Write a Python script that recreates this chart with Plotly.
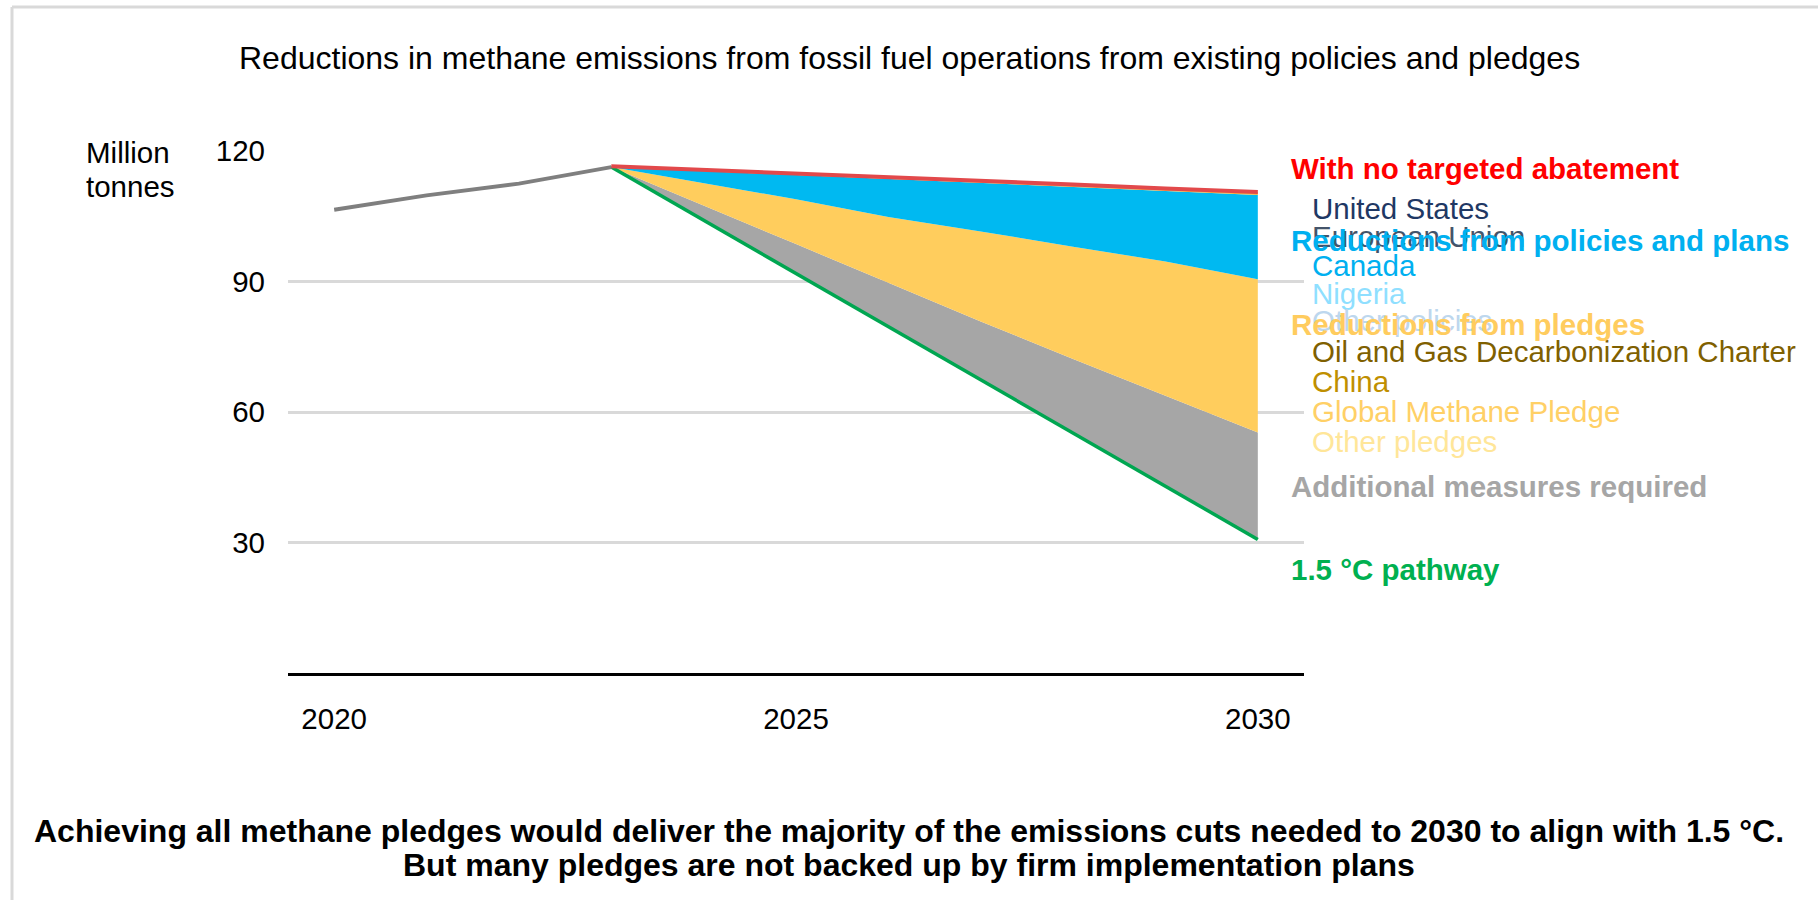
import plotly.graph_objects as go

# ---------------- data (million tonnes) ----------------
years_hist = [2020, 2021, 2022, 2023]
hist = [106.5, 109.8, 112.5, 116.3]

years_proj = [2023, 2024, 2025, 2026, 2027, 2028, 2029, 2030]
no_abatement = [116.5, 115.7, 114.8, 114.0, 113.1, 112.3, 111.4, 110.6]
after_charter = [116.3, 115.4, 114.5, 113.6, 112.7, 111.8, 110.8, 109.9]
after_policies = [116.3, 112.6, 108.9, 104.8, 101.5, 98.0, 94.6, 90.5]
after_pledges = [116.3, 107.5, 98.6, 89.7, 80.8, 72.2, 63.7, 55.3]
pathway_15 = [116.3, 104.1, 91.8, 79.6, 67.4, 55.2, 42.9, 30.7]

x_ticks = [2020, 2025, 2030]
x_ticktext = ["2020", "2025", "2030"]
y_ticks = [30, 60, 90, 120]
y_ticktext = ["30", "60", "90", "120"]

title = "Reductions in methane emissions from fossil fuel operations from existing policies and pledges"
footer1 = "Achieving all methane pledges would deliver the majority of the emissions cuts needed to 2030 to align with 1.5 °C."
footer2 = "But many pledges are not backed up by firm implementation plans"

series_labels = ["With no targeted abatement", "Reductions from policies and plans",
                 "Reductions from pledges", "Additional measures required", "1.5 °C pathway"]
policy_labels = ["United States", "European Union", "Canada", "Nigeria", "Other policies"]
pledge_labels = ["Oil and Gas Decarbonization Charter", "China", "Global Methane Pledge", "Other pledges"]

# ---------------- layout geometry ----------------
W_FIG, H_FIG = 1818, 900
L, R, T, B = 288, 514, 151, 227
PW = W_FIG - L - R
PH = H_FIG - T - B


def px(x):
    return (x - L) / PW


def py(y):
    return (H_FIG - B - y) / PH


FONT = "Liberation Sans, Arial, sans-serif"
FS = 29.5
RED, BLUE, YEL, GREY, GREEN = "#E2494B", "#00B9F1", "#FFCD5D", "#A6A6A6", "#00A651"

fig = go.Figure()

# stacked filled bands
fig.add_trace(go.Scatter(x=years_proj, y=pathway_15, mode="lines", line=dict(width=0, color=GREEN),
                         showlegend=False, hoverinfo="skip"))
fig.add_trace(go.Scatter(x=years_proj, y=after_pledges, mode="lines", line=dict(width=0),
                         fill="tonexty", fillcolor=GREY, showlegend=False, hoverinfo="skip"))
fig.add_trace(go.Scatter(x=years_proj, y=after_policies, mode="lines", line=dict(width=0),
                         fill="tonexty", fillcolor=YEL, showlegend=False, hoverinfo="skip"))
fig.add_trace(go.Scatter(x=years_proj, y=after_charter, mode="lines", line=dict(width=0),
                         fill="tonexty", fillcolor=BLUE, showlegend=False, hoverinfo="skip"))
fig.add_trace(go.Scatter(x=years_proj, y=no_abatement, mode="lines", line=dict(width=0),
                         fill="tonexty", fillcolor="#F5B041", showlegend=False, hoverinfo="skip"))

# lines
fig.add_trace(go.Scatter(x=years_proj, y=pathway_15, mode="lines", line=dict(width=3.5, color=GREEN),
                         showlegend=False))
fig.add_trace(go.Scatter(x=years_proj, y=no_abatement, mode="lines", line=dict(width=4, color=RED),
                         showlegend=False))
fig.add_trace(go.Scatter(x=years_hist, y=hist, mode="lines", line=dict(width=4, color="#7F7F7F"),
                         showlegend=False))

ann = []
# title
ann.append(dict(x=px(909), y=py(58), xref="paper", yref="paper", text=title, showarrow=False,
                xanchor="center", yanchor="middle", font=dict(size=32, color="#000000", family=FONT)))
# axis unit
ann.append(dict(x=px(84), y=py(152), xref="paper", yref="paper", text="Million", showarrow=False,
                xanchor="left", yanchor="middle", font=dict(size=FS, color="#000000", family=FONT)))
ann.append(dict(x=px(84), y=py(186), xref="paper", yref="paper", text="tonnes", showarrow=False,
                xanchor="left", yanchor="middle", font=dict(size=FS, color="#000000", family=FONT)))

# regular sub-labels (drawn first so bold labels overlay them)
policy_cols = ["#1F3864", "#44546A", "#00B0F0", "#8FDFFF", "#BDD7EE"]
policy_y = [208, 237, 265, 293, 320]
for t, c, yy in zip(policy_labels, policy_cols, policy_y):
    ann.append(dict(x=px(1310), y=py(yy), xref="paper", yref="paper", text=t, showarrow=False,
                    xanchor="left", yanchor="middle", font=dict(size=FS, color=c, family=FONT)))
pledge_cols = ["#7F6000", "#BF8F00", "#FFD066", "#FFE699"]
pledge_y = [351, 381, 411, 441]
for t, c, yy in zip(pledge_labels, pledge_cols, pledge_y):
    ann.append(dict(x=px(1310), y=py(yy), xref="paper", yref="paper", text=t, showarrow=False,
                    xanchor="left", yanchor="middle", font=dict(size=FS, color=c, family=FONT)))

# bold series labels
series_cols = ["#FF0000", "#00B0F0", "#FFCC5E", "#A6A6A6", "#00B050"]
series_y = [168, 240, 324, 486, 569]
for t, c, yy in zip(series_labels, series_cols, series_y):
    ann.append(dict(x=px(1289), y=py(yy), xref="paper", yref="paper", text="<b>" + t + "</b>",
                    showarrow=False, xanchor="left", yanchor="middle",
                    font=dict(size=FS, color=c, family=FONT)))

# footer
ann.append(dict(x=px(909), y=py(831), xref="paper", yref="paper", text="<b>" + footer1 + "</b>",
                showarrow=False, xanchor="center", yanchor="middle",
                font=dict(size=32, color="#000000", family=FONT)))
ann.append(dict(x=px(909), y=py(865), xref="paper", yref="paper", text="<b>" + footer2 + "</b>",
                showarrow=False, xanchor="center", yanchor="middle",
                font=dict(size=32, color="#000000", family=FONT)))

shapes = [
    dict(type="line", xref="paper", yref="paper", x0=px(12), x1=px(1830), y0=py(7), y1=py(7),
         line=dict(color="#D9D9D9", width=3)),
    dict(type="line", xref="paper", yref="paper", x0=px(12), x1=px(12), y0=py(7), y1=py(910),
         line=dict(color="#D9D9D9", width=3)),
]

fig.update_layout(
    width=W_FIG, height=H_FIG,
    margin=dict(l=L, r=R, t=T, b=B, pad=0),
    paper_bgcolor="white", plot_bgcolor="white",
    font=dict(family=FONT, size=FS, color="#000000"),
    showlegend=False,
    annotations=ann, shapes=shapes,
    xaxis=dict(range=[2019.5, 2030.5], tickvals=x_ticks, ticktext=x_ticktext, showgrid=False,
               zeroline=False, showline=True, linecolor="#000000", linewidth=3, ticks="",
               ticklabelstandoff=18, tickfont=dict(size=FS, family=FONT, color="#000000")),
    yaxis=dict(range=[0, 120], tickvals=y_ticks, ticktext=y_ticktext, showgrid=True,
               gridcolor="#D9D9D9", gridwidth=2.5, zeroline=False, showline=False, ticks="",
               ticklabelstandoff=22, tickfont=dict(size=FS, family=FONT, color="#000000")),
)

fig.write_html("out.html")
